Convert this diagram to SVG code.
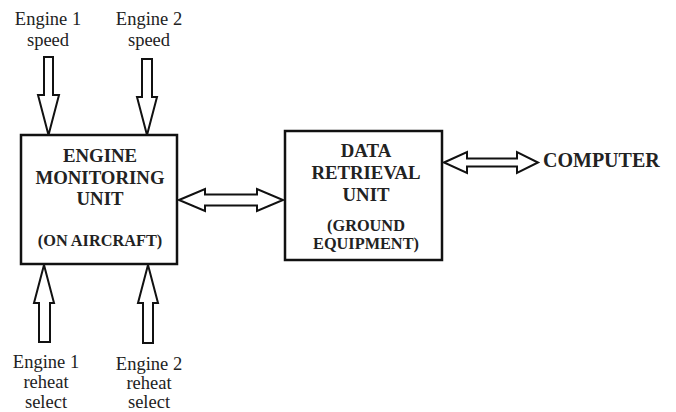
<svg xmlns="http://www.w3.org/2000/svg" width="676" height="412" viewBox="0 0 676 412">
<style>
.box{fill:#fff;stroke:#111;stroke-width:2.5}
.arr{fill:#fff;stroke:#111;stroke-width:2;stroke-linejoin:miter}
.lbl{font-family:"Liberation Serif",serif;font-size:18.5px;fill:#222;text-anchor:middle}
.ttl{font-family:"Liberation Serif",serif;font-size:18.8px;font-weight:bold;fill:#222;text-anchor:middle}
.sub{font-family:"Liberation Serif",serif;font-size:16.3px;font-weight:bold;fill:#222;text-anchor:middle}
</style>
<g id="connectors">
<polygon class="arr" points="44,57 53,57 53,95 59,95 48.5,135 38,95 44,95"/>
<polygon class="arr" points="142,59 152,59 152,97 157,97 147,135 137,97 142,97"/>
<polygon class="arr" points="39,342 50,342 50,303 54,303 44,265 34,303 39,303"/>
<polygon class="arr" points="143,343 153,343 153,303 158,303 148,265 138,303 143,303"/>
<polygon class="arr" points="179,200 205,189 205,194.5 257,194.5 257,189 283,200 257,211 257,205.5 205,205.5 205,211"/>
<polygon class="arr" points="444,162.5 467,152 467,158.5 517,158.5 517,152 538,162.5 517,173 517,166.5 467,166.5 467,173"/>
</g>
<g id="engine-monitoring-unit">
<rect class="box" x="21" y="135" width="156" height="129"/>
<text class="ttl" x="100" y="162">ENGINE</text>
<text class="ttl" x="100" y="184">MONITORING</text>
<text class="ttl" x="100" y="205">UNIT</text>
<text class="sub" x="100" y="246">(ON AIRCRAFT)</text>
</g>
<g id="data-retrieval-unit">
<rect class="box" x="285" y="131" width="157" height="129"/>
<text class="ttl" x="366" y="157">DATA</text>
<text class="ttl" x="366" y="179">RETRIEVAL</text>
<text class="ttl" x="366" y="201">UNIT</text>
<text class="sub" x="366" y="231">(GROUND</text>
<text class="sub" x="366" y="249">EQUIPMENT)</text>
</g>
<g id="computer">
<text class="ttl" x="543" y="167" style="text-anchor:start;font-size:20px">COMPUTER</text>
</g>
<g id="engine1-speed">
<text class="lbl" x="48" y="25">Engine 1</text>
<text class="lbl" x="48" y="46">speed</text>
</g>
<g id="engine2-speed">
<text class="lbl" x="149" y="25">Engine 2</text>
<text class="lbl" x="149" y="46">speed</text>
</g>
<g id="engine1-reheat">
<text class="lbl" x="46" y="368">Engine 1</text>
<text class="lbl" x="46" y="388">reheat</text>
<text class="lbl" x="46" y="408">select</text>
</g>
<g id="engine2-reheat">
<text class="lbl" x="149" y="370">Engine 2</text>
<text class="lbl" x="149" y="389">reheat</text>
<text class="lbl" x="149" y="408">select</text>
</g>
</svg>
